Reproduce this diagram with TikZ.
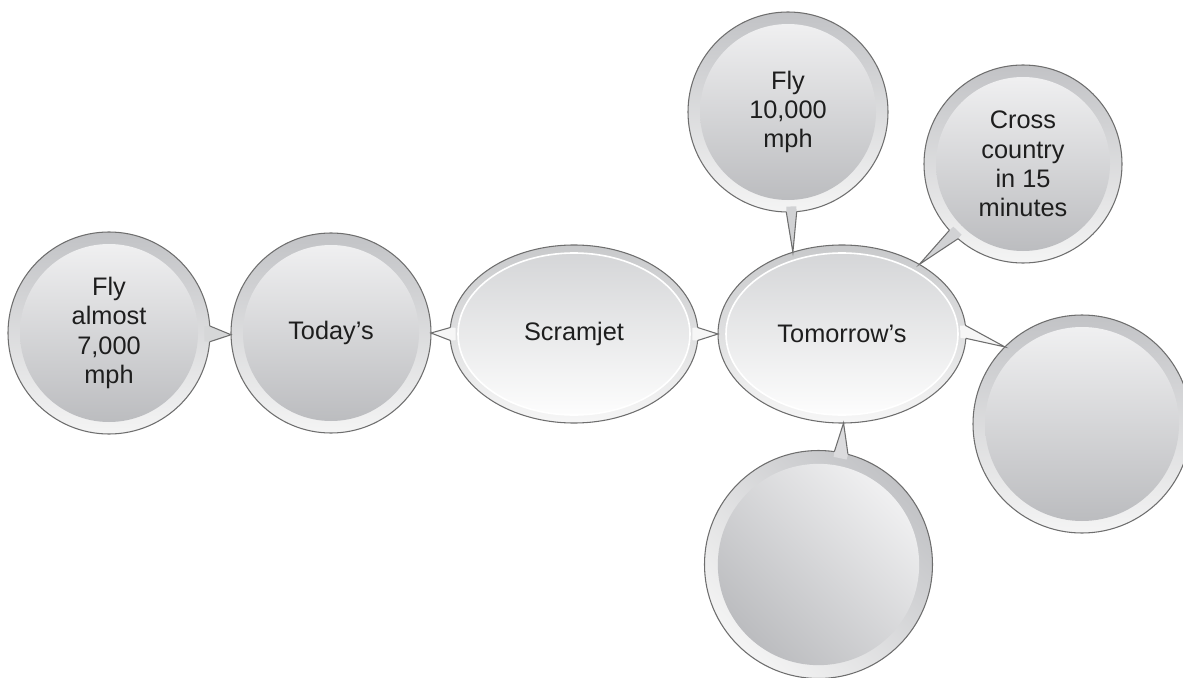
\documentclass[tikz,border=0pt]{standalone}
\usepackage{fontspec}
\setmainfont{Liberation Sans}
\usetikzlibrary{shapes.geometric,calc}

\definecolor{lineGray}{HTML}{6E6E6E}
\definecolor{ringTop}{HTML}{C2C3C6}
\definecolor{ringBot}{HTML}{F4F4F4}
\definecolor{coreTop}{HTML}{F3F3F4}
\definecolor{coreBot}{HTML}{B8B9BC}
\definecolor{ovalRingTop}{HTML}{C8C9CB}
\definecolor{ovalRingBot}{HTML}{F6F6F6}
\definecolor{ovalCoreTop}{HTML}{D3D4D6}
\definecolor{ovalCoreBot}{HTML}{FFFFFF}
\definecolor{txtBlack}{HTML}{1E1E1E}

\begin{document}
\begin{tikzpicture}[x=0.75pt,y=0.75pt,yscale=-1,xscale=1,
  bubble/.style={circle, inner sep=0pt, outer sep=0pt, minimum size=#1, draw=lineGray, line width=0.8pt,
    top color=ringTop, bottom color=ringBot, align=center, text=txtBlack, font=\fontsize{19}{22}\selectfont,
    path picture={\shade[top color=coreTop, bottom color=coreBot] (path picture bounding box.center) circle ({#1/2-9pt});}},
  tiltbubble/.style={circle, inner sep=0pt, outer sep=0pt, minimum size=#1, draw=lineGray, line width=0.8pt,
    top color=ringBot, bottom color=ringTop, shading angle=135,
    path picture={\shade[top color=coreTop, bottom color=coreBot, shading angle=-45] (path picture bounding box.center) circle ({#1/2-10pt});}},
  oval/.style={ellipse, inner sep=0pt, outer sep=0pt, minimum width=186pt, minimum height=133.5pt, draw=lineGray, line width=0.8pt,
    top color=ovalRingTop, bottom color=ovalRingBot, align=center, text=txtBlack, font=\fontsize{19}{22}\selectfont,
    path picture={\shade[top color=ovalCoreTop, bottom color=ovalCoreBot, draw=white, line width=1.2pt] (path picture bounding box.center) ellipse ({93pt-6pt} and {66.75pt-6pt});}},
  wedgeline/.style={draw=lineGray, line width=0.8pt, line join=miter}
]
\useasboundingbox (0,0) rectangle (1183,678);

%Shape: Ellipse
\node [oval] (scram) at (574,334) {Scramjet};
\node [oval] (tomorrow) at (842,334) {Tomorrow's};
%Shape: Circle
\node [bubble=151.5pt] (fly7) at (109,333) {Fly\\almost\\7,000\\mph};
\node [bubble=150pt] (today) at (331,333) {Today's};
\node [bubble=150pt] (fly10) at (788,112) {Fly\\10,000\\mph};
\node [bubble=148.5pt] (cross) at (1023,164) {Cross\\country\\in 15\\minutes};
\node [bubble=163.5pt] (rightblank) at (1082,424) {};
\node [tiltbubble=171pt] (lowblank) at (818.5,564.5) {};

%Shape: Polygon (pointers)
\fill [fill=ringTop!60!ringBot] ($(fly7.4)!4pt!(fly7.center)$) -- (fly7.4) -- (today.181) -- (fly7.-5) -- ($(fly7.-5)!4pt!(fly7.center)$) -- cycle;
\draw [wedgeline] (fly7.4) -- (today.181) -- (fly7.-5);

\fill [fill=ovalRingBot] ($(scram.177)!4pt!(scram.center)$) -- (scram.177) -- (today.0) -- (scram.183) -- ($(scram.183)!4pt!(scram.center)$) -- cycle;
\draw [wedgeline] (scram.177) -- (today.0) -- (scram.183);

\fill [fill=ovalRingBot] ($(scram.3)!4pt!(scram.center)$) -- (scram.3) -- (tomorrow.180) -- (scram.-3) -- ($(scram.-3)!4pt!(scram.center)$) -- cycle;
\draw [wedgeline] (scram.3) -- (tomorrow.180) -- (scram.-3);

\fill [fill=ringTop!70!ringBot] ($(fly10.-91)!4pt!(fly10.center)$) -- (fly10.-91) -- (tomorrow.121) -- (fly10.-85) -- ($(fly10.-85)!4pt!(fly10.center)$) -- cycle;
\draw [wedgeline] (fly10.-91) -- (tomorrow.121) -- (fly10.-85);

\fill [fill=ringTop!70!ringBot] ($(cross.-138)!4pt!(cross.center)$) -- (cross.-138) -- (tomorrow.42) -- (cross.-131) -- ($(cross.-131)!4pt!(cross.center)$) -- cycle;
\draw [wedgeline] (cross.-138) -- (tomorrow.42) -- (cross.-131);

\fill [fill=ovalRingBot] ($(tomorrow.4)!4pt!(tomorrow.center)$) -- (tomorrow.4) -- (rightblank.135) -- (tomorrow.-2) -- ($(tomorrow.-2)!4pt!(tomorrow.center)$) -- cycle;
\draw [wedgeline] (tomorrow.4) -- (rightblank.135) -- (tomorrow.-2);

\fill [fill=ringTop!50!ringBot] ($(lowblank.82)!4pt!(lowblank.center)$) -- (lowblank.82) -- (tomorrow.-89) -- (lowblank.75) -- ($(lowblank.75)!4pt!(lowblank.center)$) -- cycle;
\draw [wedgeline] (lowblank.82) -- (tomorrow.-89) -- (lowblank.75);

\end{tikzpicture}
\end{document}
